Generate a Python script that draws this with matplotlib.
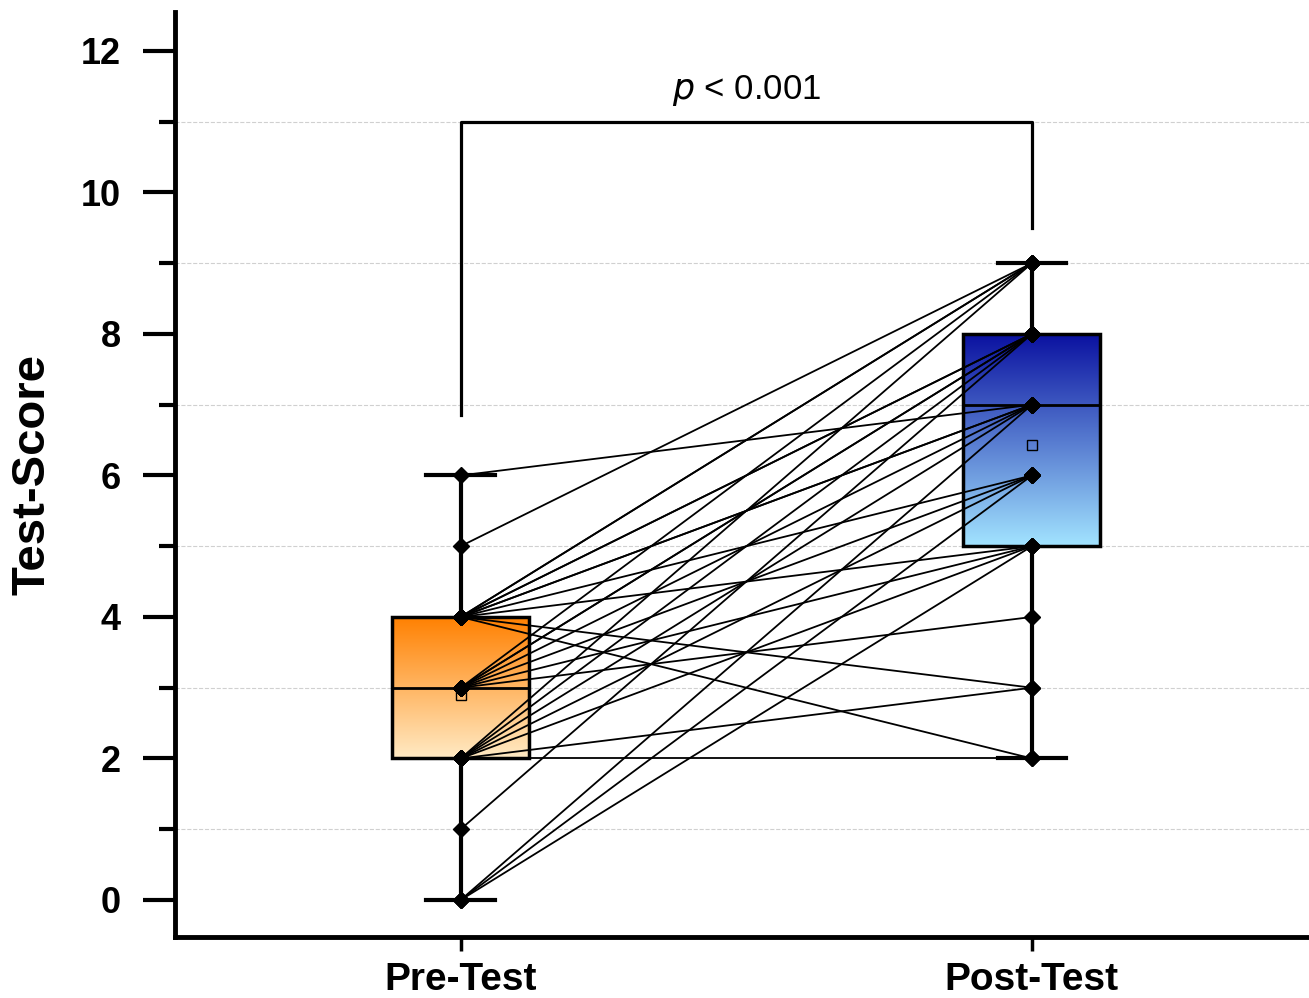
import numpy as np
import matplotlib
matplotlib.use("Agg")
from matplotlib import pyplot as plt
from matplotlib.colors import LinearSegmentedColormap
from matplotlib.patches import Rectangle
from matplotlib.ticker import MultipleLocator

plt.rcParams['font.family'] = ['Liberation Sans', 'DejaVu Sans']

# paired scores, one entry per subject
pre_scores = [6, 5, 4, 4, 4, 4, 4, 4, 4, 3, 3, 3, 3, 3, 3,
              2, 2, 2, 2, 2, 2, 2, 1, 0, 0, 0, 4, 4, 3, 4]
post_scores = [7, 9, 9, 8, 7, 6, 5, 3, 2, 9, 8, 7, 6, 5, 4,
               9, 8, 7, 6, 5, 3, 2, 8, 7, 6, 5, 8, 7, 8, 9]
groups = ["Pre-Test", "Post-Test"]
box_colors = [("#FF8000", "#FFEAC4"), ("#0A10A0", "#A2E4FF")]
p_text = r"$p$ < 0.001"

fig = plt.figure(figsize=(13.09, 9.98), dpi=100)
ax = fig.add_axes([175/1309, 61/998, 1134/1309, 925/998])

data = [np.array(pre_scores), np.array(post_scores)]
box_w = 0.24
cap_w = 0.12

for i, vals in enumerate(data):
    q1, med, q3 = np.percentile(vals, [25, 50, 75])
    lo, hi = vals.min(), vals.max()
    # whiskers + caps
    ax.plot([i, i], [lo, q1], color='k', lw=3, zorder=2, solid_capstyle='butt')
    ax.plot([i, i], [q3, hi], color='k', lw=3, zorder=2, solid_capstyle='butt')
    ax.plot([i - cap_w/2, i + cap_w/2], [lo, lo], color='k', lw=3, zorder=2)
    ax.plot([i - cap_w/2, i + cap_w/2], [hi, hi], color='k', lw=3, zorder=2)
    # gradient box
    cmap = LinearSegmentedColormap.from_list("g%d" % i, [box_colors[i][1], box_colors[i][0]])
    grad = np.linspace(0, 1, 256).reshape(-1, 1)
    ax.imshow(grad, extent=[i - box_w/2, i + box_w/2, q1, q3], origin='lower',
              aspect='auto', cmap=cmap, zorder=3)
    ax.add_patch(Rectangle((i - box_w/2, q1), box_w, q3 - q1, fill=False,
                           ec='k', lw=2.5, zorder=4))
    ax.plot([i - box_w/2, i + box_w/2], [med, med], color='k', lw=2, zorder=4)

# paired lines
for a, b in zip(pre_scores, post_scores):
    ax.plot([0, 1], [a, b], color='k', lw=1.3, zorder=5)

for i, vals in enumerate(data):
    ax.plot(np.full(len(vals), i), vals, 'D', color='k', ms=8, zorder=6)
    ax.plot(i, vals.mean(), 's', mfc='none', mec='k', mew=1, ms=7.5, zorder=7)

# significance bracket
ax.plot([0, 0, 1, 1], [6.85, 11, 11, 9.5], color='k', lw=2.3, zorder=5)
ax.text(0.5, 11.2, p_text, ha='center', va='bottom', fontsize=25)

ax.set_xlim(-0.5, 1.485)
ax.set_ylim(-0.523, 12.55)
ax.set_xticks([0, 1])
ax.set_xticklabels(groups, fontsize=28, fontweight='bold')
ax.yaxis.set_major_locator(MultipleLocator(2))
ax.yaxis.set_minor_locator(MultipleLocator(1))
ax.set_yticks([0, 2, 4, 6, 8, 10, 12])
ax.set_yticklabels([str(v) for v in [0, 2, 4, 6, 8, 10, 12]], fontsize=26, fontweight='bold')
ax.tick_params(axis='y', which='major', length=23, width=3, pad=16)
ax.tick_params(axis='y', which='minor', length=11.5, width=3)
ax.tick_params(axis='x', which='major', length=10, width=2.5, pad=8)
ax.grid(True, which='minor', axis='y', ls='--', color='#d0d0d0', lw=0.8, zorder=0)
ax.set_axisbelow(True)

for s in ['top', 'right']:
    ax.spines[s].set_visible(False)
for s in ['left', 'bottom']:
    ax.spines[s].set_linewidth(3.5)

ax.set_ylabel("Test-Score", fontsize=34, fontweight='bold', va='center')
ax.yaxis.set_label_coords(-0.126, 0.5)

plt.savefig("out.png", dpi=100)
